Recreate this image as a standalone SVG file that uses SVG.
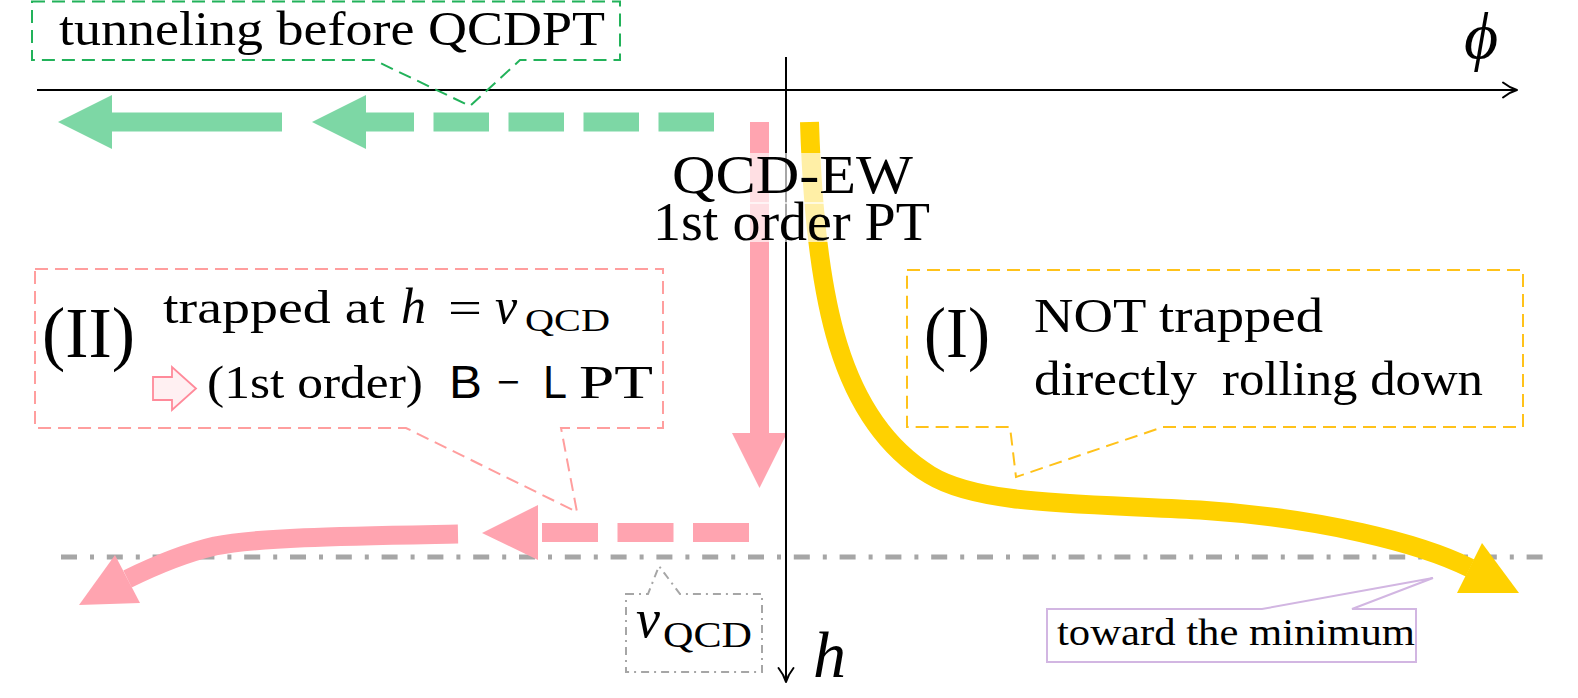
<svg xmlns="http://www.w3.org/2000/svg" width="1578" height="698" viewBox="0 0 1578 698">
<defs>
<style>
.t{font-family:"Liberation Serif","DejaVu Serif",serif;fill:#000}
.i{font-style:italic}
.sf{font-family:"Liberation Sans","DejaVu Sans",sans-serif;fill:#000}
.ax{stroke:#000;stroke-width:2;fill:none}
.axh{stroke:#000;stroke-width:2;fill:none;stroke-linecap:round;stroke-linejoin:round}
.gfill{fill:#7dd7a5}
.pfill{fill:#ffa4b0}
.yfill{fill:#ffd100}
.box{fill:none;stroke-width:2;stroke-dasharray:13 7}
.bg{fill:#fff;fill-opacity:0.65}
</style>
</defs>
<rect width="1578" height="698" fill="#fff"/>

<!-- reference level v_QCD -->
<g id="vqcd-line">
<line x1="61" y1="557" x2="1545" y2="557" stroke="#a6a6a6" stroke-width="5" stroke-dasharray="16 13 4 12.8"/>
</g>

<g id="connectors">
<!-- green: tunneling before QCDPT -->
<rect class="gfill" x="112" y="112.5" width="170" height="19"/>
<polygon class="gfill" points="58,122 112,95 112,149"/>
<path d="M714 122 L366 122" stroke="#7dd7a5" stroke-width="19" stroke-dasharray="55.5 19.5" fill="none"/>
<polygon class="gfill" points="312,122 366,95 366,149"/>
<!-- pink vertical -->
<rect class="pfill" x="750" y="122" width="19" height="311"/>
<polygon class="pfill" points="732,433 787,433 759.5,488"/>
<!-- pink dashed horizontal -->
<path d="M749 532.5 L538 532.5" stroke="#ffa4b0" stroke-width="19" stroke-dasharray="56 19.5" fill="none"/>
<polygon class="pfill" points="482,533 538,505 538,560"/>
<!-- pink curve -->
<path d="M458 534 C350 536 260 537 215 546 C185 553 160 563 127.5 579" stroke="#ffa4b0" stroke-width="19" fill="none"/>
<polygon class="pfill" points="115,555 79,605 140,603"/>
<!-- yellow curve -->
<path d="M809.5 122 C815 300 840 420 930 475 C980 505.5 1080 503 1200 510 C1320 518 1420 543 1470 568" stroke="#ffd100" stroke-width="19" fill="none"/>
<polygon class="yfill" points="1482,543 1457,593 1519,593"/>
</g>

<g id="axes">
<line class="ax" x1="37" y1="90" x2="1516" y2="90"/>
<path class="axh" d="M1503 82.5 Q1510 88 1517 90 Q1510 92 1503 97.5"/>
<line class="ax" x1="786" y1="57" x2="786" y2="681"/>
<path class="axh" d="M778.5 668 Q784 675 786 682 Q788 675 793.5 668"/>
<text class="t i" x="1464" y="58" font-size="66">ϕ</text>
<text class="t i" x="813" y="677" font-size="66">h</text>
</g>

<g id="qcd-ew-label">
<rect class="bg" x="668" y="153" width="250" height="51"/>
<rect class="bg" x="648" y="202" width="287" height="40"/>
<text class="t" x="672" y="193" font-size="55" textLength="241" lengthAdjust="spacingAndGlyphs">QCD-EW</text>
<text class="t" x="653" y="240" font-size="55" textLength="277" lengthAdjust="spacingAndGlyphs">1st order PT</text>
</g>

<g id="callout-tunneling">
<path class="box" stroke="#22b25a" d="M32 1.5 H620 V60 H520 L470 106 L374 60 H32 Z"/>
<text class="t" x="59" y="45" font-size="49" textLength="546" lengthAdjust="spacingAndGlyphs">tunneling before QCDPT</text>
</g>

<g id="callout-II">
<path class="box" stroke="#ff9e9e" d="M35 269 H663 V428 H561 L577 512 L406 428 H35 Z"/>
<text class="t" x="42" y="357" font-size="72" textLength="93" lengthAdjust="spacingAndGlyphs">(II)</text>
<text class="t" x="163" y="323" font-size="47" textLength="222" lengthAdjust="spacingAndGlyphs">trapped at</text>
<text class="t i" x="401" y="323" font-size="50">h</text>
<text class="t" x="448" y="323" font-size="47" textLength="34" lengthAdjust="spacingAndGlyphs">=</text>
<text class="t i" x="495" y="323" font-size="50">v</text>
<text class="t" x="525" y="331" font-size="32" textLength="85" lengthAdjust="spacingAndGlyphs">QCD</text>
<polygon points="153,377 172,377 172,367 196,388.5 172,410 172,400 153,400" fill="#fff0f2" stroke="#ff8a9a" stroke-width="1.8" stroke-linejoin="miter"/>
<text class="t" x="207" y="398" font-size="47" textLength="216" lengthAdjust="spacingAndGlyphs">(1st order)</text>
<text class="sf" x="449" y="398" font-size="46" textLength="33" lengthAdjust="spacingAndGlyphs">B</text>
<text class="t" x="497" y="398" font-size="47" textLength="23" lengthAdjust="spacingAndGlyphs">−</text>
<text class="sf" x="543" y="398" font-size="46" textLength="24" lengthAdjust="spacingAndGlyphs">L</text>
<text class="t" x="579" y="398" font-size="47" textLength="74" lengthAdjust="spacingAndGlyphs">PT</text>
</g>

<g id="callout-I">
<path class="box" stroke="#ffc21a" d="M907 270 H1523 V427 H1163 L1016 477 L1010 427 H907 Z"/>
<text class="t" x="924" y="357" font-size="72" textLength="66" lengthAdjust="spacingAndGlyphs">(I)</text>
<text class="t" x="1034" y="332" font-size="48" textLength="289" lengthAdjust="spacingAndGlyphs">NOT trapped</text>
<text class="t" font-size="48"><tspan x="1034" y="395" textLength="163" lengthAdjust="spacingAndGlyphs">directly</tspan><tspan x="1222" y="395" textLength="261" lengthAdjust="spacingAndGlyphs">rolling down</tspan></text>
</g>

<g id="callout-vqcd">
<path fill="none" stroke="#a6a6a6" stroke-width="2" stroke-dasharray="8 5 2 5" d="M626 594 H648 L659 566 L680 594 H762 V672 H626 Z"/>
<text class="t i" x="636" y="637" font-size="54">v</text>
<text class="t" x="663" y="647" font-size="35" textLength="89" lengthAdjust="spacingAndGlyphs">QCD</text>
</g>

<g id="callout-minimum">
<path fill="none" stroke="#d2b6e2" stroke-width="2" d="M1047 609 H1262 L1433 578 L1352 609 H1416 V662 H1047 Z"/>
<text class="t" x="1057" y="645" font-size="38" textLength="358" lengthAdjust="spacingAndGlyphs">toward the minimum</text>
</g>
</svg>
